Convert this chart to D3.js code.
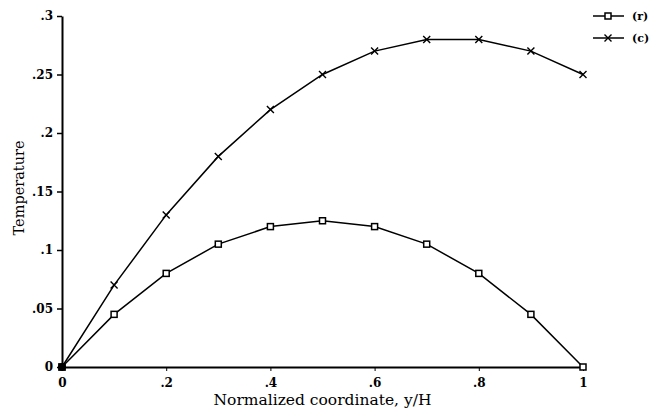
<!DOCTYPE html>
<meta charset="utf-8">
<script src="https://d3js.org/d3.v7.min.js"></script>
<style>
  body { margin: 0; background: #fff; }
  text { fill: #000; }
</style>
<div id="chart"></div>
<script>
    // data
    var xs = [0, .1, .2, .3, .4, .5, .6, .7, .8, .9, 1];
    var tempR = [0, .045, .08, .105, .12, .125, .12, .105, .08, .045, 0];
    var tempC = [0, .07, .13, .18, .22, .25, .27, .28, .28, .27, .25];
    var xTicks = [0, .2, .4, .6, .8, 1];
    var xTickLabels = ["0", ".2", ".4", ".6", ".8", "1"];
    var yTicks = [0, .05, .1, .15, .2, .25, .3];
    var yTickLabels = ["0", ".05", ".1", ".15", ".2", ".25", ".3"];
    var seriesNames = ["(r)", "(c)"];

    var W = 654, H = 411;
    var margin = {top: 16, right: 71, bottom: 44, left: 62};

    var svg = d3.select("#chart").append("svg")
        .attr("width", W).attr("height", H);

    var x = d3.scaleLinear().domain([0, 1]).range([margin.left, W - margin.right]);
    var y = d3.scaleLinear().domain([0, .3]).range([H - margin.bottom, margin.top]);

    var tickFont = "'DejaVu Serif', serif";

    // X axis
    var gx = svg.append("g")
        .attr("transform", "translate(0," + y(0) + ")")
        .call(d3.axisBottom(x).tickValues(xTicks)
            .tickFormat(function (d, i) { return xTickLabels[i]; })
            .tickSize(4).tickSizeOuter(0));
    gx.select(".domain").attr("stroke-width", 2);
    gx.selectAll("text").attr("font-family", tickFont).attr("font-weight", "bold")
        .attr("font-size", 12).attr("dy", "1.05em");

    // Y axis
    var gy = svg.append("g")
        .attr("transform", "translate(" + x(0) + ",0)")
        .call(d3.axisLeft(y).tickValues(yTicks)
            .tickFormat(function (d, i) { return yTickLabels[i]; })
            .tickSize(5).tickSizeOuter(0));
    gy.select(".domain").attr("stroke-width", 2);
    gy.selectAll("line").attr("stroke-width", 1.5);
    gy.selectAll("text").attr("font-family", tickFont).attr("font-weight", "bold")
        .attr("font-size", 12).attr("x", -9);

    // axis labels
    svg.append("text")
        .attr("x", (x(0) + x(1)) / 2)
        .attr("y", 405)
        .attr("text-anchor", "middle")
        .attr("font-family", tickFont)
        .attr("font-size", 15.5)
        .text("Normalized coordinate, y/H");

    svg.append("text")
        .attr("transform", "translate(24," + 188 + ") rotate(-90)")
        .attr("text-anchor", "middle")
        .attr("font-family", tickFont)
        .attr("font-size", 14.5)
        .text("Temperature");

    var line = d3.line()
        .x(function (d, i) { return x(xs[i]); })
        .y(function (d) { return y(d); });

    function squareMark(g, cx, cy) {
        g.append("rect")
            .attr("x", cx - 3).attr("y", cy - 3)
            .attr("width", 6).attr("height", 6)
            .attr("fill", "#fff").attr("stroke", "#000").attr("stroke-width", 1.5);
    }
    function crossMark(g, cx, cy) {
        g.append("path")
            .attr("d", "M" + (cx - 3.5) + "," + (cy - 3.5) + "L" + (cx + 3.5) + "," + (cy + 3.5) +
                "M" + (cx - 3.5) + "," + (cy + 3.5) + "L" + (cx + 3.5) + "," + (cy - 3.5))
            .attr("stroke", "#000").attr("stroke-width", 1.4);
    }

    // series (c)
    svg.append("path").datum(tempC)
        .attr("d", line).attr("fill", "none")
        .attr("stroke", "#000").attr("stroke-width", 1.5);
    var gc = svg.append("g");
    tempC.forEach(function (d, i) { crossMark(gc, x(xs[i]), y(d)); });

    // series (r)
    svg.append("path").datum(tempR)
        .attr("d", line).attr("fill", "none")
        .attr("stroke", "#000").attr("stroke-width", 1.5);
    var gr = svg.append("g");
    tempR.forEach(function (d, i) { squareMark(gr, x(xs[i]), y(d)); });

    // blob at the origin where markers pile up
    svg.append("circle").attr("cx", x(0)).attr("cy", y(0)).attr("r", 4).attr("fill", "#000");

    // legend
    var lg = svg.append("g");
    [16, 38].forEach(function (ly, i) {
        lg.append("line")
            .attr("x1", 593).attr("x2", 624).attr("y1", ly).attr("y2", ly)
            .attr("stroke", "#000").attr("stroke-width", 1.5);
        if (i === 0) squareMark(lg, 608, ly); else crossMark(lg, 608, ly);
        lg.append("text")
            .attr("x", 632).attr("y", ly + 4)
            .attr("font-family", tickFont).attr("font-weight", "bold")
            .attr("font-size", 11)
            .text(seriesNames[i]);
    });
</script>
